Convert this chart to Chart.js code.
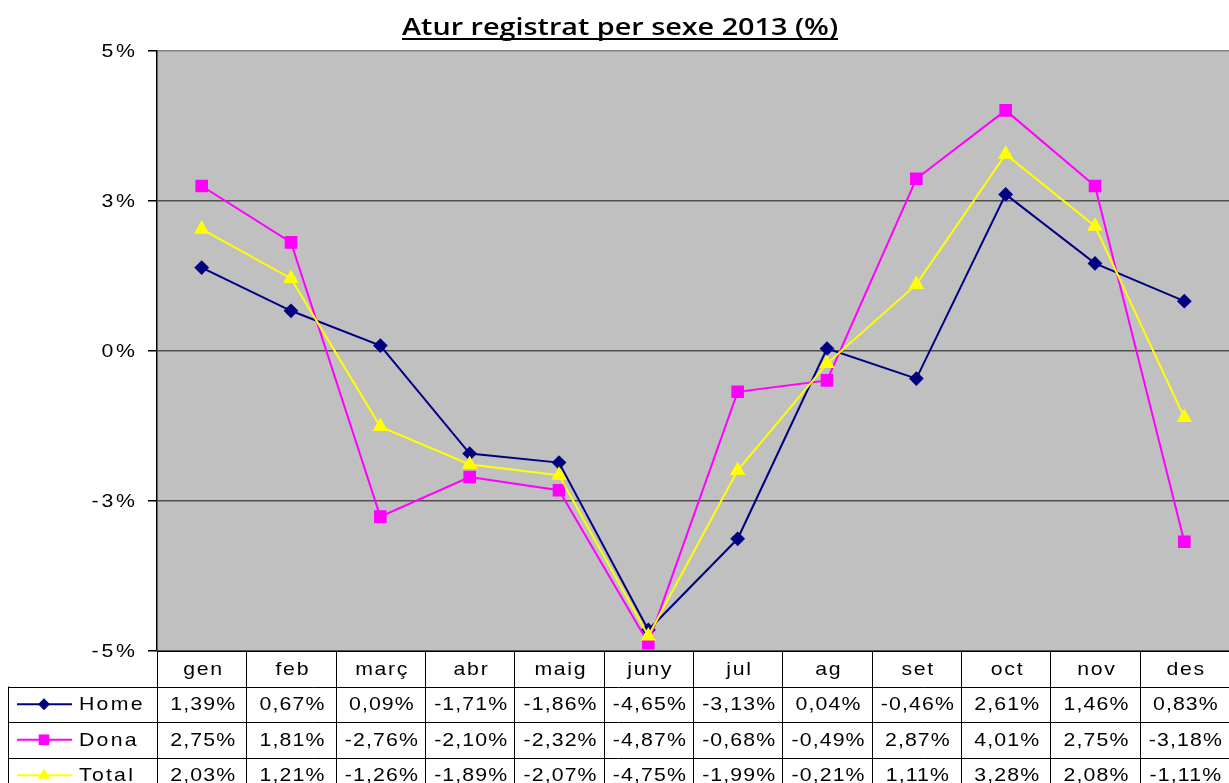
<!DOCTYPE html>
<html>
<head>
<meta charset="utf-8">
<script src="https://cdn.jsdelivr.net/npm/chart.js@4"></script>
<style>
  html, body { margin: 0; padding: 0; background: #fff; overflow: hidden; }
  #wrap { width: 1229px; height: 783px; }
  canvas { display: block; }
</style>
</head>
<body>
<div id="wrap"><canvas id="aturChart" width="1229" height="783"></canvas></div>
<script>
const title = "Atur registrat per sexe 2013 (%)";
const months = ["gen", "feb", "març", "abr", "maig", "juny", "jul", "ag", "set", "oct", "nov", "des"];
const home = [1.39, 0.67, 0.09, -1.71, -1.86, -4.65, -3.13, 0.04, -0.46, 2.61, 1.46, 0.83];
const dona = [2.75, 1.81, -2.76, -2.10, -2.32, -4.87, -0.68, -0.49, 2.87, 4.01, 2.75, -3.18];
const total = [2.03, 1.21, -1.26, -1.89, -2.07, -4.75, -1.99, -0.21, 1.11, 3.28, 2.08, -1.11];
const yTicks = [-5, -2.5, 0, 2.5, 5];
const yTickLabels = ["-5%", "-3%", "0%", "3%", "5%"];

const fmt = v => v.toFixed(2).replace(".", ",") + "%";

// Excel renders this text a bit wider than Arial, so stretch it horizontally
function wideText(ctx, text, x, y, align, spacing) {
  const sx = 1.12;
  ctx.save();
  ctx.letterSpacing = spacing + "px";
  const w = ctx.measureText(text).width - spacing;
  ctx.translate(x, y);
  ctx.scale(sx, 1);
  ctx.textAlign = "left";
  let x0 = 0;
  if (align === "center") x0 = -w / 2;
  if (align === "right") x0 = -w;
  ctx.fillText(text, x0, 0);
  ctx.restore();
}

// plot background, title, y labels
const decor = {
  id: "decor",
  beforeDraw(chart) {
    const { ctx, chartArea: a } = chart;
    ctx.save();
    ctx.fillStyle = "#c0c0c0";
    ctx.fillRect(a.left, a.top, a.right - a.left, a.bottom - a.top);
    ctx.restore();
  },
  afterDraw(chart) {
    const { ctx } = chart;
    const y = chart.scales.y;
    ctx.save();
    ctx.font = "600 24px 'Open Sans'";
    const w0 = ctx.measureText(title).width;
    ctx.fillStyle = "#000";
    ctx.textBaseline = "alphabetic";
    ctx.save();
    ctx.translate(402, 35);
    ctx.scale(436 / w0, 1);
    ctx.textAlign = "left";
    ctx.fillText(title, 0, 0);
    ctx.restore();
    ctx.fillRect(402, 38, 436, 2);

    ctx.font = "19px 'Liberation Sans'";
    ctx.textBaseline = "middle";
    yTicks.forEach((v, i) => wideText(ctx, yTickLabels[i], 135, y.getPixelForValue(v) + 1, "right", 2.5));
    ctx.restore();
  }
};

// data table under the plot
const dataTable = {
  id: "dataTable",
  afterDraw(chart) {
    const { ctx, chartArea: a } = chart;
    const x = chart.scales.x;
    const colW = x.getPixelForValue(1) - x.getPixelForValue(0);
    const rowH = 35.5;
    const top = a.bottom;
    const leftX = 8;
    ctx.save();
    ctx.strokeStyle = "#000";
    ctx.lineWidth = 1;
    ctx.fillStyle = "#fff";
    ctx.fillRect(a.left, top + 1, chart.width - a.left, chart.height - top);
    ctx.fillRect(0, top + 12, a.left, chart.height - top);

    // vertical lines
    for (let i = 0; i < months.length; i++) {
      const px = Math.round(x.getPixelForValue(i) - colW / 2) + 0.5;
      ctx.beginPath();
      ctx.moveTo(px, top);
      ctx.lineTo(px, chart.height);
      ctx.stroke();
    }
    ctx.beginPath();
    ctx.moveTo(leftX + 0.5, top + rowH);
    ctx.lineTo(leftX + 0.5, chart.height);
    ctx.stroke();

    // horizontal lines
    ctx.beginPath();
    ctx.moveTo(a.left, top + 0.5);
    ctx.lineTo(a.right, top + 0.5);
    ctx.stroke();
    for (let r = 1; r <= 3; r++) {
      const py = Math.round(top + r * rowH) + 0.5;
      ctx.beginPath();
      ctx.moveTo(leftX, py);
      ctx.lineTo(a.right, py);
      ctx.stroke();
    }

    ctx.fillStyle = "#000";
    ctx.font = "19px 'Liberation Sans'";
    ctx.textBaseline = "middle";
    months.forEach((m, i) => wideText(ctx, m, x.getPixelForValue(i) + 1, top + rowH / 2 + 1, "center", 1.5));

    chart.data.datasets.forEach((ds, r) => {
      const cy = top + (r + 1.5) * rowH + 1;
      ds.data.forEach((v, i) => wideText(ctx, fmt(v), x.getPixelForValue(i) + 1, cy, "center", 1));
      // legend key
      ctx.save();
      ctx.strokeStyle = ds.borderColor;
      ctx.lineWidth = 2;
      ctx.beginPath();
      ctx.moveTo(17, cy - 1);
      ctx.lineTo(72, cy - 1);
      ctx.stroke();
      ctx.fillStyle = ds.pointBackgroundColor;
      Chart.helpers.drawPoint(ctx, { pointStyle: ds.pointStyle, radius: ds.pointRadius, borderWidth: 0 }, 44, cy - 1);
      ctx.restore();
      wideText(ctx, ds.label, 79, cy, "left", 2);
    });
    ctx.restore();
  }
};

new Chart(document.getElementById("aturChart"), {
  type: "line",
  data: {
    labels: months,
    datasets: [
      {
        label: "Home",
        data: home,
        borderColor: "#000080",
        backgroundColor: "#000080",
        pointBackgroundColor: "#000080",
        pointBorderColor: "#000080",
        pointStyle: "rectRot",
        pointRadius: 6,
        borderWidth: 2,
        tension: 0,
        order: 2,
      },
      {
        label: "Dona",
        data: dona,
        borderColor: "#ff00ff",
        backgroundColor: "#ff00ff",
        pointBackgroundColor: "#ff00ff",
        pointBorderColor: "#ff00ff",
        pointStyle: "rect",
        pointRadius: 7.5,
        borderWidth: 2,
        tension: 0,
        order: 1,
      },
      {
        label: "Total",
        data: total,
        borderColor: "#ffff00",
        backgroundColor: "#ffff00",
        pointBackgroundColor: "#ffff00",
        pointBorderColor: "#ffff00",
        pointStyle: "triangle",
        pointRadius: 7,
        borderWidth: 2,
        tension: 0,
        order: 0,
      },
    ],
  },
  options: {
    responsive: false,
    animation: false,
    layout: { autoPadding: false, padding: { top: 51, bottom: 132, left: 0, right: 0 } },
    plugins: { legend: { display: false }, tooltip: { enabled: false } },
    scales: {
      x: { display: false, offset: true },
      y: {
        min: -5,
        max: 5,
        afterBuildTicks: scale => { scale.ticks = yTicks.map(v => ({ value: v })); },
        afterFit: scale => { scale.width = 157; },
        ticks: { display: false },
        grid: {
          color: ctx => (ctx.tick && ctx.tick.value === 5 ? "#808080" : "#505050"),
          lineWidth: 1.5,
          tickLength: 9,
          tickColor: "#000",
        },
        border: { color: "#000", width: 1.5 },
      },
    },
  },
  plugins: [decor, dataTable],
});
</script>
</body>
</html>
